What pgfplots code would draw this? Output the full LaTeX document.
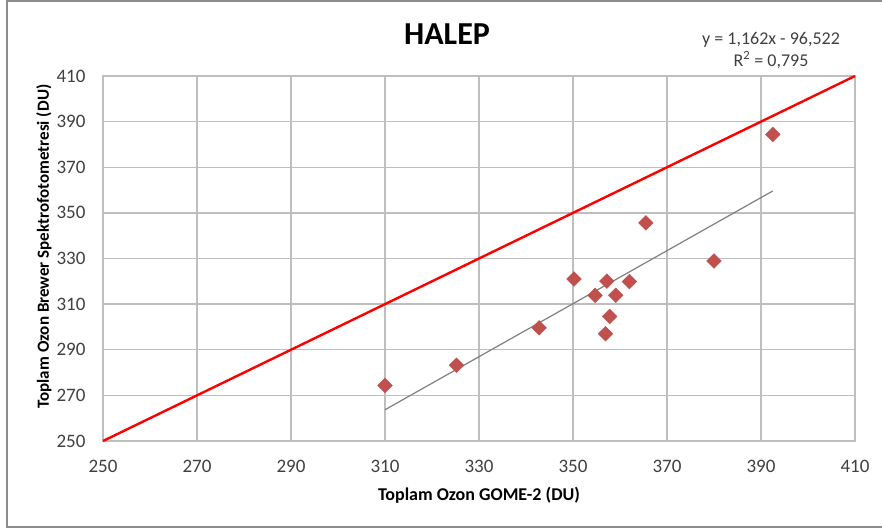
\documentclass[border=0pt]{standalone}
\usepackage{pgfplots}
\pgfplotsset{compat=1.18}
\usepackage{fontspec}
\setmainfont{Carlito}
\definecolor{gridg}{RGB}{190,190,190}
\definecolor{mk}{RGB}{192,80,77}
\definecolor{txt}{RGB}{64,64,64}
\begin{document}
\begin{tikzpicture}[x=1pt,y=1pt]
\useasboundingbox (0,0) rectangle (882,528);
\fill[white] (0,0) rectangle (882,528);
\draw[color={rgb,255:red,140;green,140;blue,140}, line width=1.5pt] (7,0.8) rectangle (900,527);
\begin{axis}[
  at={(103pt,87pt)}, anchor=south west,
  scale only axis, width=752pt, height=365pt,
  xmin=250, xmax=410, ymin=250, ymax=410,
  xtick={250,270,...,410}, ytick={250,270,...,410},
  grid=major,
  major grid style={gridg, line width=1.3pt},
  axis line style={gridg, line width=1.3pt},
  major tick length=0pt,
  /pgf/number format/assume math mode=true,
  tick label style={font=\fontsize{19}{22}\selectfont, text=txt},
  xticklabel style={anchor=center, yshift=-25pt},
  yticklabel style={anchor=east, xshift=-14pt},
  xlabel={\textbf{Toplam Ozon GOME-2 (DU)}},
  ylabel={\textbf{Toplam Ozon Brewer Spektrofotometresi (DU)}},
  xlabel style={font=\fontsize{18}{20}\selectfont, at={(axis description cs:0.5,0)}, anchor=center, yshift=-54pt},
  ylabel style={font=\fontsize{17}{20}\selectfont, at={(axis description cs:0,0.5)}, anchor=center, rotate=0, yshift=59pt, xshift=12pt},
  clip=false,
]
\addplot[red, line width=2.4pt] coordinates {(250,250) (410,410)};
\addplot[color={rgb,255:red,128;green,128;blue,128}, line width=1.2pt] coordinates {(310,263.7) (392.5,359.6)};
\addplot[only marks, mark=square*, mark size=5.2pt, mark options={rotate=45, fill=mk, draw=mk}] coordinates {
(310.0,274.3)
(325.2,283.2)
(342.8,299.6)
(350.2,321.0)
(354.7,313.8)
(357.2,320.1)
(359.1,313.9)
(362.0,319.9)
(357.8,304.6)
(356.9,297.0)
(365.5,345.6)
(380.0,328.9)
(392.5,384.4)
};
\end{axis}
\node[font=\bfseries\fontsize{32}{36}\selectfont] at (447,494) {HALEP};
\node[font=\fontsize{18}{20}\selectfont, text=txt] at (771,488) {y = 1,162x - 96,522};
\node[font=\fontsize{18}{20}\selectfont, text=txt] at (771,468) {R\textsuperscript{2} = 0,795};
\end{tikzpicture}
\end{document}
